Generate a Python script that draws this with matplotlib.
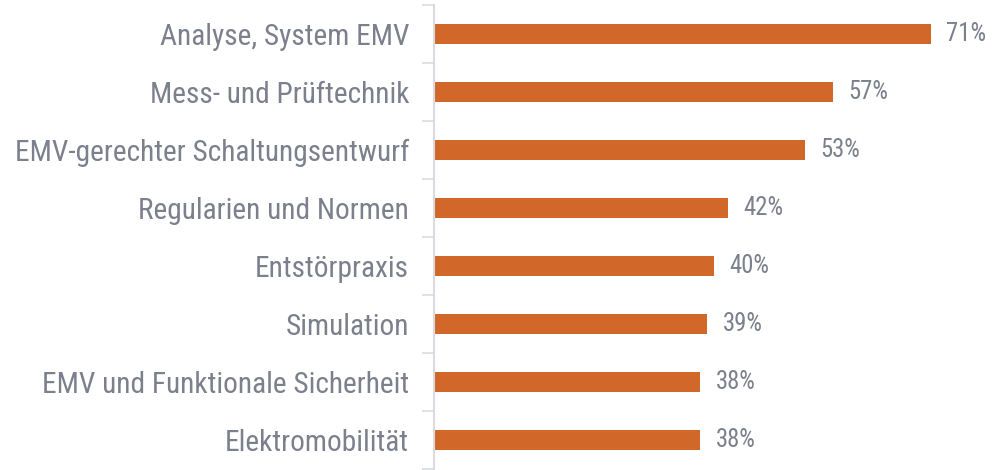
import matplotlib
matplotlib.use("Agg")
import matplotlib.pyplot as plt
from matplotlib import font_manager

categories = ["Analyse, System EMV", "Mess- und Prüftechnik", "EMV-gerechter Schaltungsentwurf",
              "Regularien und Normen", "Entstörpraxis", "Simulation",
              "EMV und Funktionale Sicherheit", "Elektromobilität"]
values = [71, 57, 53, 42, 40, 39, 38, 38]

names = {f.name for f in font_manager.fontManager.ttflist}
fam = "Roboto Condensed" if "Roboto Condensed" in names else "Roboto"
plt.rcParams['font.family'] = [fam, 'DejaVu Sans']

bar_color = "#D2672A"
text_color = "#7B808C"
line_color = "#D9DBE0"

fig = plt.figure(figsize=(9.92, 4.70), dpi=100)
ax = fig.add_axes([434 / 992, 1 - 469 / 470, 558 / 992, 464 / 470])

pos = list(range(len(categories)))
ax.barh(pos, values, height=0.35, color=bar_color)
ax.set_ylim(len(categories) - 0.5, -0.5)
ax.set_xlim(0, 558 / 7.0)

for p, v in zip(pos, values):
    ax.text(v + 2.2, p, f"{v}%", va="center", ha="left", fontsize=17.8, color=text_color)

ax.set_yticks(pos)
ax.set_yticklabels(categories, fontsize=21.2, color=text_color)
ax.set_yticks([p - 0.5 for p in range(len(categories) + 1)], minor=True)
ax.tick_params(axis="y", which="major", length=0, pad=18)
ax.tick_params(axis="y", which="minor", length=9, width=1.2, color=line_color)
ax.set_xticks([])

for s in ["top", "right", "bottom"]:
    ax.spines[s].set_visible(False)
ax.spines["left"].set_color(line_color)
ax.spines["left"].set_linewidth(1.5)

fig.savefig("out.png", dpi=100)
